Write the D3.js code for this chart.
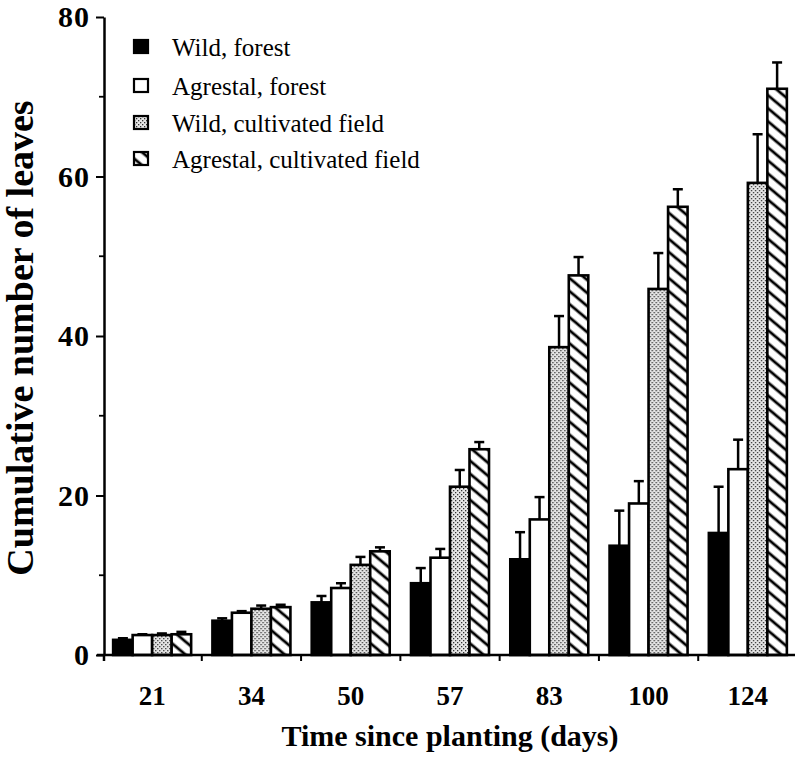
<!DOCTYPE html>
<html>
<head>
<meta charset="utf-8">
<script src="https://cdn.jsdelivr.net/npm/d3@7"></script>
<style>
  html, body { margin: 0; padding: 0; background: #fff; }
  svg { display: block; font-family: "Liberation Serif", "Times New Roman", serif; }
</style>
</head>
<body>
<svg id="chart" width="795" height="764"></svg>
<script>
// Sampling days (x categories)
const days = ["21", "34", "50", "57", "83", "100", "124"];

// Series: mean cumulative leaf count and its upper error
const seriesNames = ["Wild, forest", "Agrestal, forest", "Wild, cultivated field", "Agrestal, cultivated field"];
const wildForest        = [1.9, 4.3, 6.6, 9.0, 12.0, 13.7, 15.3];
const wildForestErr     = [0.2, 0.3, 0.8, 1.9, 3.4, 4.4, 5.8];
const agrestalForest    = [2.5, 5.3, 8.4, 12.2, 17.0, 19.0, 23.3];
const agrestalForestErr = [0.1, 0.2, 0.6, 1.1, 2.8, 2.8, 3.7];
const wildField         = [2.5, 5.8, 11.3, 21.1, 38.6, 45.9, 59.2];
const wildFieldErr      = [0.2, 0.4, 1.0, 2.1, 3.9, 4.5, 6.1];
const agrestalField     = [2.6, 6.0, 13.0, 25.8, 47.6, 56.2, 71.0];
const agrestalFieldErr  = [0.3, 0.3, 0.5, 0.9, 2.3, 2.2, 3.3];

const yTicks = [0, 20, 40, 60, 80];
const yMinorTicks = [10, 30, 50, 70];

const values = [wildForest, agrestalForest, wildField, agrestalField];
const errors = [wildForestErr, agrestalForestErr, wildFieldErr, agrestalFieldErr];

const svg = d3.select("#chart");
const defs = svg.append("defs");

// Stippled fill
const dots = defs.append("pattern").attr("id", "stipple")
  .attr("patternUnits", "userSpaceOnUse").attr("width", 4).attr("height", 4);
dots.append("rect").attr("width", 4).attr("height", 4).attr("fill", "#e6e6e6");
dots.append("rect").attr("x", 0).attr("y", 0).attr("width", 1.3).attr("height", 1.3).attr("fill", "#333");
dots.append("rect").attr("x", 2).attr("y", 2).attr("width", 1.3).attr("height", 1.3).attr("fill", "#333");

// Diagonal hatch fill (upper-left to lower-right)
const hatch = defs.append("pattern").attr("id", "hatch")
  .attr("patternUnits", "userSpaceOnUse").attr("width", 10).attr("height", 10)
  .attr("patternTransform", "rotate(40)");
hatch.append("rect").attr("width", 10).attr("height", 10).attr("fill", "#fff");
hatch.append("line").attr("x1", 0).attr("x2", 10).attr("y1", 5).attr("y2", 5)
  .attr("stroke", "#000").attr("stroke-width", 2.8);

const fills = ["#000", "#fff", "url(#stipple)", "url(#hatch)"];

const x0 = d3.scaleBand().domain(days).range([102.5, 797.5]).paddingInner(0).paddingOuter(0);
const x1 = d3.scaleBand().domain(d3.range(4)).range([0, 78]).padding(0);
const y = d3.scaleLinear().domain([0, 80]).range([655, 17]);

const groupOffset = (x0.bandwidth() - 78) / 2;

// Bars and error bars
const groups = svg.append("g").selectAll("g")
  .data(days).join("g")
  .attr("transform", d => `translate(${x0(d) + groupOffset},0)`);

const cells = groups.selectAll("g.cell")
  .data((d, i) => values.map((s, k) => ({ k, v: s[i], e: errors[k][i] })))
  .join("g").attr("class", "cell");

cells.append("line")
  .attr("x1", d => x1(d.k) + x1.bandwidth() / 2)
  .attr("x2", d => x1(d.k) + x1.bandwidth() / 2)
  .attr("y1", d => y(d.v)).attr("y2", d => y(d.v + d.e))
  .attr("stroke", "#000").attr("stroke-width", 2.5);
cells.append("line")
  .attr("x1", d => x1(d.k) + x1.bandwidth() / 2 - 5)
  .attr("x2", d => x1(d.k) + x1.bandwidth() / 2 + 5)
  .attr("y1", d => y(d.v + d.e)).attr("y2", d => y(d.v + d.e))
  .attr("stroke", "#000").attr("stroke-width", 2.5);

cells.append("rect")
  .attr("x", d => x1(d.k))
  .attr("width", x1.bandwidth())
  .attr("y", d => y(d.v))
  .attr("height", d => y(0) - y(d.v))
  .attr("fill", d => fills[d.k])
  .attr("stroke", "#000").attr("stroke-width", 2.6);

// Y axis
const yAxis = svg.append("g").attr("transform", "translate(104,0)")
  .call(d3.axisLeft(y).tickValues(yTicks).tickSize(8).tickSizeOuter(0).tickPadding(6));
yAxis.select(".domain").attr("stroke-width", 2.5);
yAxis.selectAll(".tick line").attr("stroke-width", 2);
yAxis.selectAll(".tick text")
  .attr("font-size", 30).attr("font-weight", "bold").attr("fill", "#000")
  .attr("letter-spacing", 1)
  .attr("font-family", "Liberation Serif, Times New Roman, serif");
svg.append("g").selectAll("line").data(yMinorTicks).join("line")
  .attr("x1", 99).attr("x2", 104)
  .attr("y1", d => y(d)).attr("y2", d => y(d))
  .attr("stroke", "#000").attr("stroke-width", 1.8);

// X axis: baseline, separators between groups, centred day labels
svg.append("line").attr("x1", 97).attr("x2", 795)
  .attr("y1", y(0)).attr("y2", y(0)).attr("stroke", "#000").attr("stroke-width", 2.5);
svg.append("g").selectAll("line").data(days.slice(1)).join("line")
  .attr("x1", d => x0(d)).attr("x2", d => x0(d))
  .attr("y1", y(0)).attr("y2", y(0) + 6)
  .attr("stroke", "#000").attr("stroke-width", 2);
svg.append("line").attr("x1", 104).attr("x2", 104)
  .attr("y1", y(0)).attr("y2", y(0) + 6).attr("stroke", "#000").attr("stroke-width", 2.5);
svg.append("g").selectAll("text").data(days).join("text")
  .attr("x", d => x0(d) + x0.bandwidth() / 2)
  .attr("y", 705)
  .attr("text-anchor", "middle")
  .attr("font-size", 27).attr("font-weight", "bold")
  .text(d => d);

// Axis titles
svg.append("text")
  .attr("x", 450).attr("y", 746)
  .attr("text-anchor", "middle")
  .attr("font-size", 30).attr("font-weight", "bold")
  .text("Time since planting (days)");
svg.append("text")
  .attr("transform", "translate(33,338) rotate(-90)")
  .attr("text-anchor", "middle")
  .attr("font-size", 38).attr("font-weight", "bold")
  .text("Cumulative number of leaves");

// Legend
const legendY = [40, 79, 116, 152];
const legend = svg.append("g").selectAll("g").data(seriesNames).join("g")
  .attr("transform", (d, i) => `translate(134,${legendY[i]})`);
legend.append("rect")
  .attr("width", 14).attr("height", 13)
  .attr("fill", (d, i) => fills[i])
  .attr("stroke", "#000").attr("stroke-width", 2.2);
legend.append("text")
  .attr("x", 38).attr("y", 16)
  .attr("font-size", 25)
  .text(d => d);
</script>
</body>
</html>
